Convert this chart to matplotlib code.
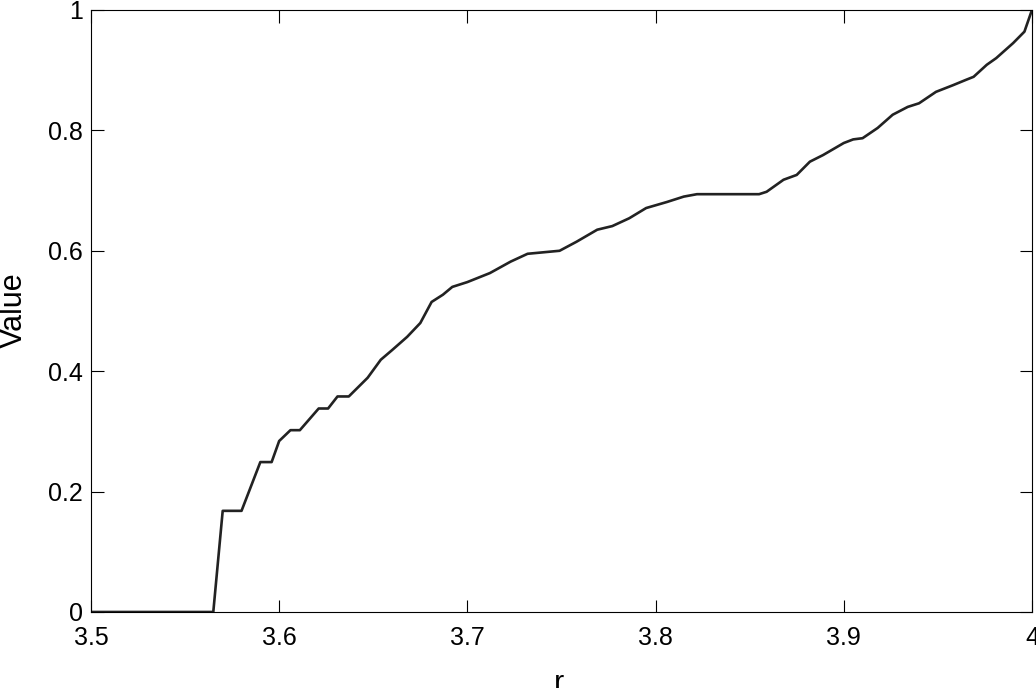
import matplotlib
matplotlib.use("Agg")
import matplotlib.pyplot as plt

r_vals = [3.500, 3.565, 3.570, 3.580, 3.590, 3.596, 3.600, 3.606, 3.611, 3.621,
          3.626, 3.631, 3.637, 3.647, 3.654, 3.660, 3.668, 3.675, 3.681, 3.687,
          3.692, 3.700, 3.712, 3.723, 3.732, 3.749, 3.758, 3.769, 3.777, 3.786,
          3.795, 3.806, 3.815, 3.822, 3.855, 3.859, 3.868, 3.875, 3.882, 3.889,
          3.900, 3.905, 3.910, 3.918, 3.926, 3.934, 3.940, 3.949, 3.958, 3.965,
          3.969, 3.976, 3.981, 3.990, 3.996, 4.000]
values = [0.000, 0.000, 0.168, 0.168, 0.249, 0.249, 0.284, 0.302, 0.302, 0.338,
          0.338, 0.358, 0.358, 0.389, 0.419, 0.435, 0.457, 0.480, 0.515, 0.527,
          0.540, 0.548, 0.563, 0.582, 0.595, 0.600, 0.615, 0.635, 0.641, 0.654,
          0.671, 0.681, 0.690, 0.694, 0.694, 0.698, 0.718, 0.726, 0.748, 0.759,
          0.779, 0.785, 0.787, 0.804, 0.826, 0.839, 0.845, 0.864, 0.875, 0.884,
          0.889, 0.909, 0.920, 0.945, 0.964, 1.000]
x_ticks = [3.5, 3.6, 3.7, 3.8, 3.9, 4.0]
x_tick_labels = ["3.5", "3.6", "3.7", "3.8", "3.9", "4"]
y_ticks = [0, 0.2, 0.4, 0.6, 0.8, 1.0]
y_tick_labels = ["0", "0.2", "0.4", "0.6", "0.8", "1"]

plt.rcParams['font.family'] = ['Liberation Sans', 'DejaVu Sans']

fig = plt.figure(figsize=(10.36, 6.88), dpi=100)
ax = fig.add_axes([0.0878, 0.1105, 0.9083, 0.875])
ax.plot(r_vals, values, color='#222222', linewidth=1.9)
ax.set_xlim(3.5, 4.0)
ax.set_ylim(0, 1)
ax.set_xticks(x_ticks)
ax.set_xticklabels(x_tick_labels)
ax.set_yticks(y_ticks)
ax.set_yticklabels(y_tick_labels)
ax.tick_params(direction='in', length=9, width=0.8, labelsize=18,
               top=True, right=True)
ax.tick_params(axis='x', pad=10)
ax.tick_params(axis='y', pad=6)
for s in ax.spines.values():
    s.set_linewidth(0.8)
ax.set_xlabel('r', fontsize=22, va='top')
ax.xaxis.set_label_coords(0.497, -0.094)
ax.set_ylabel('Value', fontsize=22)
ax.yaxis.set_label_coords(-0.066, 0.502)
fig.savefig('out.png', dpi=100)
